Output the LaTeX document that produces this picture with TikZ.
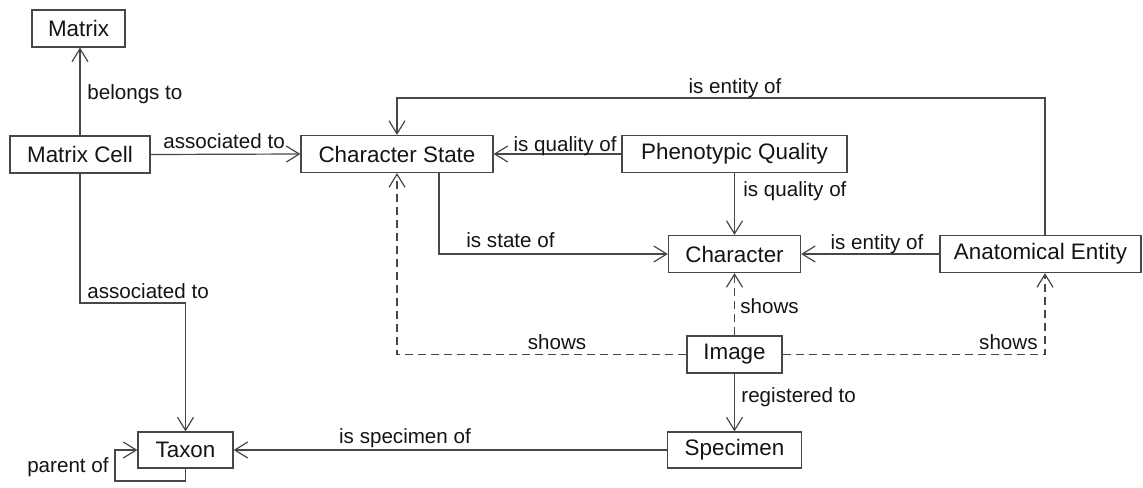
\documentclass[tikz,border=0pt]{standalone}
\usepackage{fontspec}
\setmainfont{Liberation Sans}
\usetikzlibrary{arrows.meta}
\begin{document}
\begin{tikzpicture}[x=0.5pt,y=-0.5pt,
  box/.style={draw=black!72, line width=0.6pt, rectangle, inner sep=0pt,
    minimum height=18.5pt, text=black!92, font=\fontsize{11.2}{13}\selectfont},
  lbl/.style={inner sep=0pt, text=black!92, font=\fontsize{10.3}{12}\selectfont},
  conn/.style={draw=black!72, line width=0.6pt,
    -{Straight Barb[length=6.5pt,width=8pt,line width=0.6pt]}},
  showsline/.style={conn, dash pattern=on 4pt off 2.5pt}
]
\useasboundingbox (0,0) rectangle (1143,487);

% classes
\node[box, minimum width=46.5pt]  (mx) at (78.5,28.5)  {Matrix};
\node[box, minimum width=70pt]    (mc) at (80,154.5)   {Matrix Cell};
\node[box, minimum width=96pt]    (cs) at (397,154)    {Character State};
\node[box, minimum width=112.5pt] (pq) at (734.5,154)  {Phenotypic Quality};
\node[box, minimum width=66pt]    (ch) at (734.5,254)  {Character};
\node[box, minimum width=100.5pt] (ae) at (1040.5,254) {Anatomical Entity};
\node[box, minimum width=47.5pt]  (im) at (734.5,354.5) {Image};
\node[box, minimum width=47.5pt, minimum height=18pt] (tx) at (185.5,450) {Taxon};
\node[box, minimum width=67pt, minimum height=18pt]   (sp) at (734.5,450) {Specimen};

% routing helpers
\coordinate (aeTap) at (1045,0);
\coordinate (csTap) at (439,0);
\coordinate (topY)  at (0,98);
\coordinate (jogY)  at (0,303);
\coordinate (loopL) at (115,481);

% relations
\draw[conn] (mc.north) -- (mc.north |- mx.south);
\draw[conn] (mc.east) -- (cs.west);
\draw[conn] (pq.west) -- (cs.east);
\draw[conn] (aeTap |- ae.north) -- (aeTap |- topY) -| (cs.north);
\draw[conn] (pq.south) -- (ch.north);
\draw[conn] (csTap |- cs.south) |- (ch.west);
\draw[conn] (ae.west) -- (ch.east);
\draw[showsline] (im.north) -- (ch.south);
\draw[showsline] (im.west) -| (cs.south);
\draw[showsline] (im.east) -| (aeTap |- ae.south);
\draw[conn] (im.south) -- (sp.north);
\draw[conn] (sp.west) -- (tx.east);
\draw[conn] (mc.south) -- (mc.south |- jogY) -| (tx.north);
\draw[conn] (tx.south) -- (tx.south |- loopL) -- (loopL) |- (tx.west);

% relation labels
\node[lbl, anchor=base west] (l1)  at (87,99)    {belongs to};
\node[lbl, anchor=base west] (l2)  at (163,148)  {associated to};
\node[lbl, anchor=base east] (l3)  at (617,151)  {is quality of};
\node[lbl, anchor=base]      (l4)  at (735,93)   {is entity of};
\node[lbl, anchor=base west] (l5)  at (743,196)  {is quality of};
\node[lbl, anchor=base west] (l6)  at (466,247)  {is state of};
\node[lbl, anchor=base]      (l7)  at (877,249)  {is entity of};
\node[lbl, anchor=base west] (l8)  at (740,313)  {shows};
\node[lbl, anchor=base]      (l9)  at (557,349)  {shows};
\node[lbl, anchor=base east] (l10) at (1038,349) {shows};
\node[lbl, anchor=base west] (l11) at (741,402)  {registered to};
\node[lbl, anchor=base]      (l12) at (405,443)  {is specimen of};
\node[lbl, anchor=base west] (l13) at (87,298)   {associated to};
\node[lbl, anchor=base east] (l14) at (109,472)  {parent of};
\end{tikzpicture}
\end{document}
